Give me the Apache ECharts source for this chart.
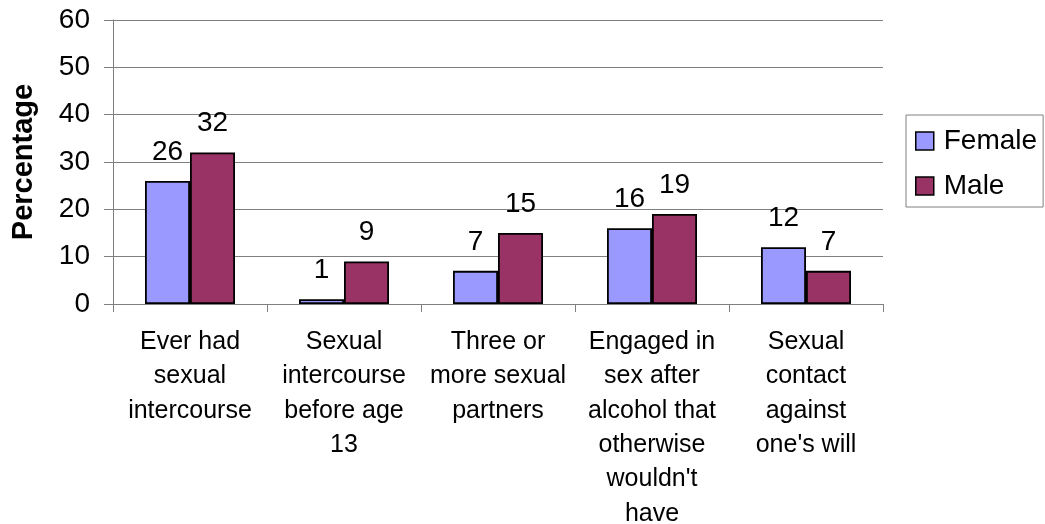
<!DOCTYPE html>
<html>
<head>
<meta charset="utf-8">
<script src="https://cdn.jsdelivr.net/npm/echarts@6/dist/echarts.min.js"></script>
<style>
  html, body { margin: 0; padding: 0; background: #ffffff; }
  #chart { width: 1045px; height: 524px; }
</style>
</head>
<body>
<div id="chart"></div>
<script>
// Survey categories (line breaks as shown under the axis)
const categories = [
  "Ever had\nsexual\nintercourse",
  "Sexual\nintercourse\nbefore age\n13",
  "Three or\nmore sexual\npartners",
  "Engaged in\nsex after\nalcohol that\notherwise\nwouldn't\nhave",
  "Sexual\ncontact\nagainst\none's will"
];
const femaleValues = [26, 1, 7, 16, 12];
const maleValues = [32, 9, 15, 19, 7];
const yTicks = { min: 0, max: 60, interval: 10 };

const FONT = "'Liberation Sans', Arial, sans-serif";

const chart = echarts.init(document.getElementById('chart'), null, { renderer: 'canvas' });

function barSeries(name, values, color) {
  return {
    name: name,
    type: 'bar',
    data: values,
    barWidth: 45,
    barGap: '0%',
    itemStyle: { color: color, borderColor: '#000000', borderWidth: 1.8 },
    label: {
      show: true,
      position: 'top',
      distance: 15,
      fontFamily: FONT,
      fontSize: 28,
      color: '#000000'
    },
    emphasis: { disabled: true },
    animation: false
  };
}

chart.setOption({
  backgroundColor: '#ffffff',
  animation: false,
  grid: { left: 113, right: 162, top: 20, bottom: 220, containLabel: false, outerBoundsMode: 'none' },
  legend: {
    orient: 'vertical',
    left: 906,
    top: 115,
    padding: [12, 6, 7, 9],
    itemGap: 17,
    itemWidth: 18,
    itemHeight: 18,
    icon: 'rect',
    borderColor: '#808080',
    borderWidth: 1,
    textStyle: { fontFamily: FONT, fontSize: 28, color: '#000000', padding: [0, 0, 0, 5] },
    data: [
      { name: 'Female', itemStyle: { color: '#9999ff', borderColor: '#000000', borderWidth: 1.5 } },
      { name: 'Male', itemStyle: { color: '#993366', borderColor: '#000000', borderWidth: 1.5 } }
    ]
  },
  xAxis: {
    type: 'category',
    data: categories,
    boundaryGap: true,
    axisLine: { lineStyle: { color: '#808080', width: 1 } },
    axisTick: { show: true, length: 8, alignWithLabel: false, lineStyle: { color: '#808080' } },
    axisLabel: {
      interval: 0,
      margin: 21,
      fontFamily: FONT,
      fontSize: 25,
      lineHeight: 34.3,
      color: '#000000',
      align: 'center',
      verticalAlign: 'top'
    },
    splitLine: { show: false }
  },
  yAxis: {
    type: 'value',
    min: yTicks.min,
    max: yTicks.max,
    interval: yTicks.interval,
    name: 'Percentage',
    nameLocation: 'middle',
    nameGap: 75,
    nameRotate: 90,
    nameTextStyle: { fontFamily: FONT, fontSize: 29, fontWeight: 'bold', color: '#000000' },
    axisLine: { show: true, lineStyle: { color: '#808080', width: 1 } },
    axisTick: { show: true, length: 9, inside: false, lineStyle: { color: '#808080' } },
    axisLabel: { margin: 23, fontFamily: FONT, fontSize: 28, color: '#000000' },
    splitLine: { show: true, lineStyle: { color: '#808080', width: 1 } }
  },
  series: [
    barSeries('Female', femaleValues, '#9999ff'),
    barSeries('Male', maleValues, '#993366')
  ]
});
</script>
</body>
</html>
